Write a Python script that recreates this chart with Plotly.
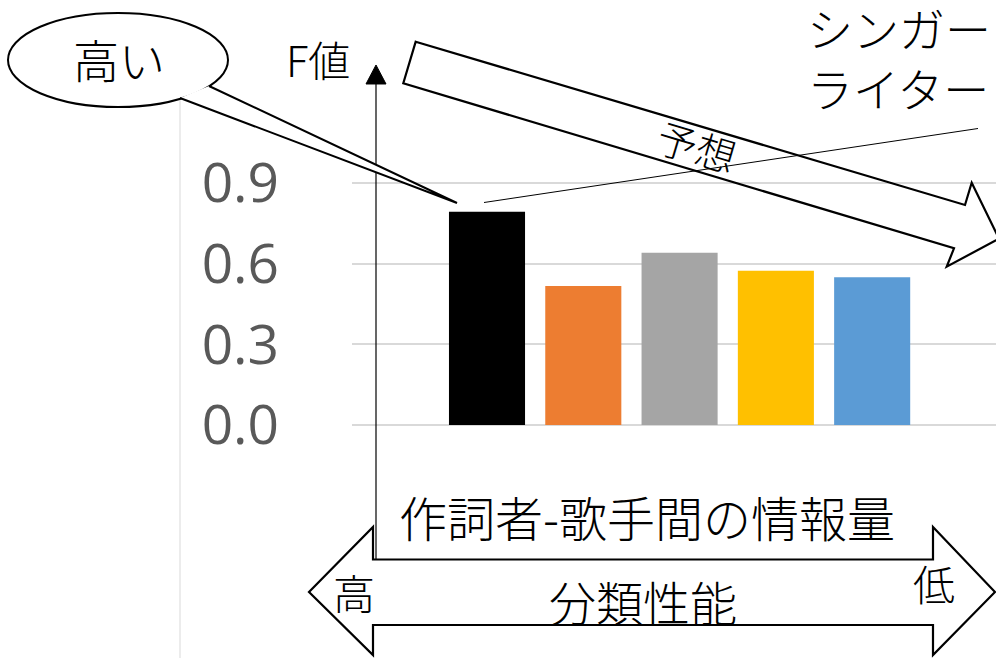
import plotly.graph_objects as go

# ---- data ----
categories = ["A", "B", "C", "D", "E"]
f_values = [0.793, 0.517, 0.641, 0.574, 0.549]
bar_colors = ["#000000", "#ED7D31", "#A5A5A5", "#FFC000", "#5B9BD5"]
y_ticks = [0.0, 0.3, 0.6, 0.9]
y_tick_labels = ["0.0", "0.3", "0.6", "0.9"]

W, H = 996, 658
L, R, T, B = 352, 0, 180, 230
PW, PH = W - L - R, H - T - B

def px(x):
    return (x - L) / PW

def py(y):
    return (H - B - y) / PH

def path(points, close=True):
    s = "M " + " L ".join(f"{px(x):.5f},{py(y):.5f}" for x, y in points)
    return s + (" Z" if close else "")

JP = "Noto Sans CJK JP"

fig = go.Figure()
fig.add_trace(go.Bar(
    x=categories, y=f_values,
    marker=dict(color=bar_colors, line=dict(width=0)),
    width=0.79, showlegend=False,
))

shapes = []
# light gray chart border line at left
shapes.append(dict(type="line", xref="paper", yref="paper",
                   x0=px(180), x1=px(180), y0=py(100), y1=py(658),
                   line=dict(color="#d9d9d9", width=1)))
# y axis arrow line
shapes.append(dict(type="line", xref="paper", yref="paper",
                   x0=px(376), x1=px(376), y0=py(559), y1=py(82),
                   line=dict(color="#000000", width=1.2)))
shapes.append(dict(type="path", path=path([(376, 65), (366, 84), (386, 84)]),
                   xref="paper", yref="paper", fillcolor="#000000",
                   line=dict(color="#000000", width=1)))
# callout tail + ellipse
shapes.append(dict(type="circle", xref="paper", yref="paper",
                   x0=px(8), x1=px(228), y0=py(13), y1=py(107),
                   fillcolor="white", line=dict(color="black", width=2)))
shapes.append(dict(type="path", path=path([(180, 98), (457, 203), (209, 86)], close=False),
                   xref="paper", yref="paper", fillcolor="white",
                   line=dict(color="black", width=2)))
# thin line
shapes.append(dict(type="line", xref="paper", yref="paper",
                   x0=px(484), y0=py(202.5), x1=px(978), y1=py(128.5),
                   line=dict(color="black", width=1)))
# big block arrow (no fill)
shapes.append(dict(type="path", xref="paper", yref="paper",
                   path=path([(415.7, 41.7), (965, 205), (971.7, 182.7), (999, 238.6),
                              (946.7, 266.7), (954, 248.3), (403.3, 83.3)]),
                   fillcolor="rgba(0,0,0,0)", line=dict(color="black", width=2.2)))
# bottom double arrow
shapes.append(dict(type="path", xref="paper", yref="paper",
                   path=path([(309, 592), (373, 527), (373, 559.5), (933, 559.5), (933, 527),
                              (995, 592), (933, 655), (933, 625), (373, 625), (373, 655)]),
                   fillcolor="rgba(0,0,0,0)", line=dict(color="black", width=2.2)))

def ann(text, x, y, size, xanchor="center", angle=0):
    return dict(text=text, xref="paper", yref="paper", x=px(x), y=py(y),
                xanchor=xanchor, yanchor="middle", showarrow=False, textangle=angle,
                font=dict(family=JP, size=size, color="black", weight=300))

annotations = [
    ann("高い", 119, 58, 46),
    ann("F値", 318, 58, 42),
    ann("予想", 697, 146, 40, angle=16.5),
    ann("シンガー<br>ライター", 805, 57, 46, xanchor="left"),
    ann("作詞者-歌手間の情報量", 647, 516, 48),
    ann("高", 354, 591, 42),
    ann("低", 934, 582, 42),
    ann("分類性能", 643, 600, 47),
]
annotations[3]["align"] = "left"

lo = -(H - B - 425) / 268.9
hi = (425 - T) / 268.9
fig.update_layout(
    width=W, height=H,
    margin=dict(l=L, r=R, t=T, b=B, pad=0),
    paper_bgcolor="white", plot_bgcolor="white",
    shapes=shapes, annotations=annotations,
    bargap=0.2,
    xaxis=dict(range=[-1.402, 5.286], showticklabels=False, showgrid=False,
               zeroline=False, showline=False, ticks=""),
    yaxis=dict(range=[lo, hi], tickvals=y_ticks, ticktext=y_tick_labels,
               showgrid=True, gridcolor="#d9d9d9", gridwidth=1.5,
               zeroline=False, showline=False, ticks="", ticklabelstandoff=72,
               tickfont=dict(family="Open Sans", size=55, color="#595959")),
)

fig.write_html("out.html")
